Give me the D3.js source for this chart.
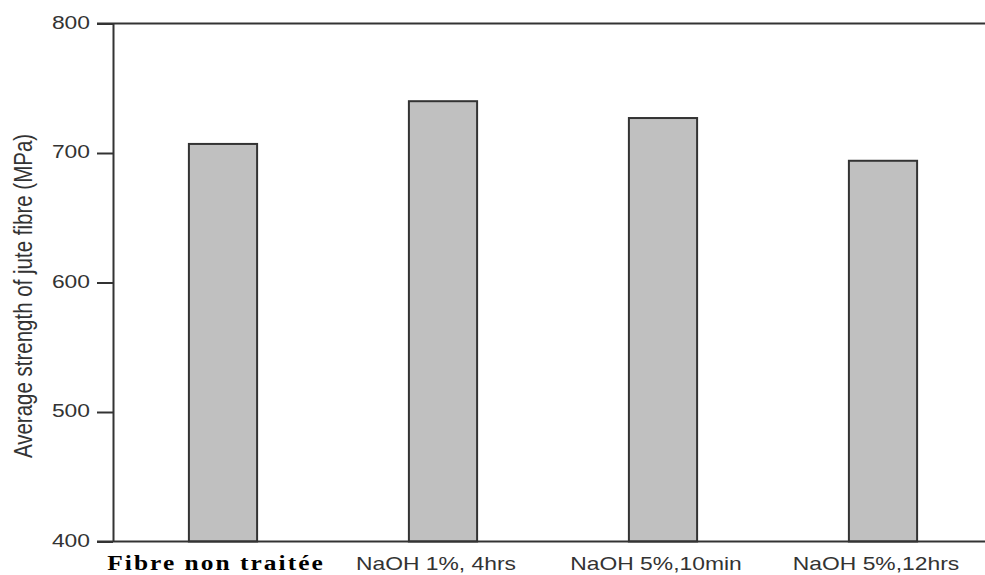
<!DOCTYPE html>
<html>
<head>
<meta charset="utf-8">
<script src="https://cdn.jsdelivr.net/npm/d3@7"></script>
<style>
  body { margin: 0; background: #fff; }
  svg { display: block; }
</style>
</head>
<body>
<div id="chart"></div>
<script>
// data
var treatments = ["Fibre non traitée", "NaOH 1%, 4hrs", "NaOH 5%,10min", "NaOH 5%,12hrs"];
var strength = [707, 740, 727, 694];
var yTicks = [400, 500, 600, 700, 800];

var width = 985, height = 575;
var stretch = 1.27; // the picture text is widened horizontally

var svg = d3.select("#chart").append("svg")
    .attr("width", width)
    .attr("height", height);

var x = d3.scaleBand()
    .domain(treatments)
    .range([113, 993]);

var y = d3.scaleLinear()
    .domain([400, 800])
    .range([541.5, 23.5]);

var barW = x.bandwidth() * 0.31;

// frame lines: top (800) and bottom (400)
svg.append("line")
    .attr("x1", 97).attr("x2", width)
    .attr("y1", y(800)).attr("y2", y(800))
    .attr("stroke", "#333").attr("stroke-width", 2);

// bars
svg.append("g").selectAll("rect")
    .data(treatments)
    .join("rect")
    .attr("x", function(d) { return x(d) + x.bandwidth() / 2 - barW / 2; })
    .attr("width", barW)
    .attr("y", function(d, i) { return y(strength[i]); })
    .attr("height", function(d, i) { return y(400) - y(strength[i]); })
    .attr("fill", "#c0c0c0")
    .attr("stroke", "#333")
    .attr("stroke-width", 2);

svg.append("line")
    .attr("x1", 97).attr("x2", width)
    .attr("y1", y(400)).attr("y2", y(400))
    .attr("stroke", "#333").attr("stroke-width", 2);

// y axis
var yAxis = svg.append("g")
    .attr("transform", "translate(113,0)")
    .call(d3.axisLeft(y).tickValues(yTicks).tickSize(16).tickSizeOuter(0).tickFormat(d3.format("d")));

yAxis.select(".domain").attr("stroke", "#333").attr("stroke-width", 2);
yAxis.selectAll(".tick line").attr("stroke", "#333").attr("stroke-width", 2);
yAxis.selectAll(".tick text")
    .attr("x", null)
    .attr("dy", "0.25em")
    .attr("transform", "translate(-23,0) scale(" + stretch + ",1)")
    .attr("text-anchor", "end")
    .attr("fill", "#333")
    .style("font-family", "'Liberation Sans', Arial, sans-serif")
    .style("font-size", "18px");

// y label
svg.append("text")
    .attr("transform", "translate(32,296) scale(" + stretch + ",1) rotate(-90)")
    .attr("text-anchor", "middle")
    .attr("fill", "#333")
    .style("font-family", "'Liberation Sans', Arial, sans-serif")
    .style("font-size", "20.5px")
    .text("Average strength of jute fibre (MPa)");

// x labels
svg.append("g").selectAll("text")
    .data(treatments)
    .join("text")
    .attr("transform", function(d) {
        return "translate(" + (x(d) + x.bandwidth() / 2 - 7) + ",570) scale(" + stretch + ",1)";
    })
    .attr("text-anchor", "middle")
    .attr("fill", function(d, i) { return i == 0 ? "#000" : "#333"; })
    .style("font-family", function(d, i) {
        return i == 0 ? "'Liberation Serif', 'Times New Roman', serif" : "'Liberation Sans', Arial, sans-serif";
    })
    .style("font-weight", function(d, i) { return i == 0 ? "bold" : "normal"; })
    .style("font-size", function(d, i) { return i == 0 ? "20px" : "18px"; })
    .style("letter-spacing", function(d, i) { return i == 0 ? "1.6px" : "0px"; })
    .text(function(d) { return d; });
</script>
</body>
</html>
